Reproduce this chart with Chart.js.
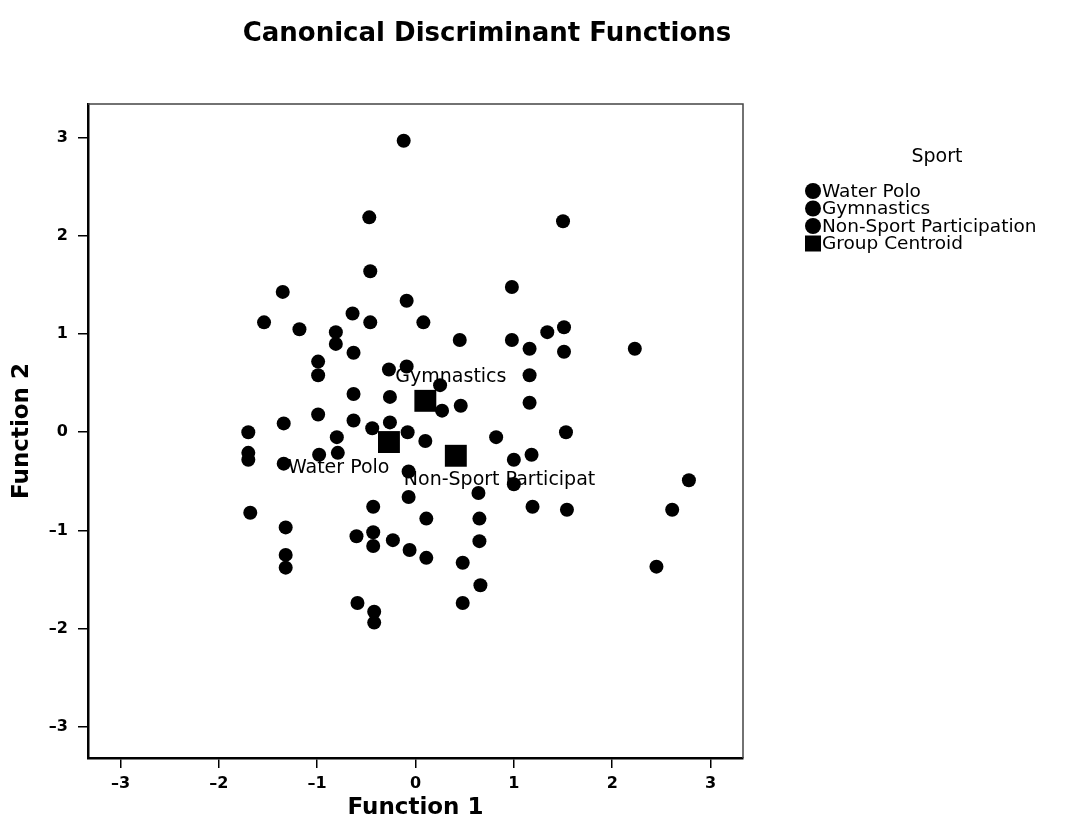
<!DOCTYPE html>
<html>
<head>
<meta charset="utf-8">
<script src="https://cdn.jsdelivr.net/npm/chart.js@4.4.1/dist/chart.umd.min.js"></script>
<style>
  html, body { margin: 0; padding: 0; background: #fff; }
  canvas { display: block; }
</style>
</head>
<body>
<canvas id="discrimChart" width="1069" height="838"></canvas>
<script>
// --- values ---
const groupNames = ['Water Polo', 'Gymnastics', 'Non-Sport Participation'];
const centroidNames = ['Water Polo', 'Gymnastics', 'Non-Sport Participat'];
const axisTicks = [-3, -2, -1, 0, 1, 2, 3];

const waterPoloX = [-1.34, -1.70, -0.44, -0.26, -0.08, -0.80, -1.70, -1.70, -1.34, -0.98, -0.79,
  -0.07, -0.07, -0.43, -1.68, -1.32, -1.32, -1.32, -0.60, -0.43, -0.43, -0.23, -0.06, -0.59, -0.42, -0.42];
const waterPoloY = [0.09, 0.00, 0.04, 0.10, 0.00, -0.05, -0.21, -0.28, -0.32, -0.23, -0.21,
  -0.40, -0.66, -0.76, -0.82, -0.97, -1.25, -1.38, -1.06, -1.02, -1.16, -1.10, -1.20, -1.74, -1.83, -1.94];

const gymnasticsX = [-0.12, -0.47, 1.50, -0.46, -1.35, -0.09, 0.98, -1.54, -1.18, -0.64, -0.46, 0.08,
  -0.81, -0.81, -0.63, 0.45, 0.98, 1.16, 1.34, 1.51, 1.51, 2.23, -0.99, -0.99, -0.27, -0.09, 0.25,
  -0.63, -0.26, 0.27, 0.46, 1.16, 1.16, -0.99, -0.63];
const gymnasticsY = [2.97, 2.19, 2.15, 1.64, 1.43, 1.34, 1.48, 1.12, 1.05, 1.21, 1.12, 1.12,
  1.02, 0.90, 0.81, 0.94, 0.94, 0.85, 1.02, 1.07, 0.82, 0.85, 0.72, 0.58, 0.64, 0.67, 0.48,
  0.39, 0.36, 0.22, 0.27, 0.58, 0.30, 0.18, 0.12];

const nonSportX = [0.10, 0.82, 1.53, 0.11, 0.11, 0.48, 0.48, 1.00, 1.18, 1.00, 0.64, 2.78,
  1.19, 1.54, 2.61, 0.65, 0.65, 2.45, 0.66];
const nonSportY = [-0.09, -0.05, 0.00, -0.88, -1.28, -1.33, -1.74, -0.28, -0.23, -0.53, -0.62, -0.49,
  -0.76, -0.79, -0.79, -0.88, -1.11, -1.37, -1.56];

const centroidX = [-0.27, 0.10, 0.41];
const centroidY = [-0.10, 0.32, -0.24];

const toPoints = (xs, ys) => xs.map((x, i) => ({ x: x, y: ys[i] }));

const FONT = 'DejaVu Sans';
Chart.defaults.font.family = FONT;
Chart.defaults.color = '#000';

// where each centroid's name sits relative to its square (px)
const labelOffsets = [[-101, 26], [-30, -24], [-52, 24]];

const centroidText = {
  id: 'centroidText',
  beforeDatasetsDraw(chart) {
    const { ctx, scales: { x, y } } = chart;
    ctx.save();
    ctx.font = '19px ' + FONT;
    ctx.fillStyle = '#000';
    ctx.textAlign = 'left';
    ctx.textBaseline = 'middle';
    centroidNames.forEach((name, i) => {
      const px = x.getPixelForValue(centroidX[i]) + labelOffsets[i][0];
      const py = y.getPixelForValue(centroidY[i]) + labelOffsets[i][1];
      ctx.fillText(name, px, py);
    });
    ctx.restore();
  }
};

const frameAndLegend = {
  id: 'frameAndLegend',
  afterDraw(chart) {
    const { ctx, chartArea: a } = chart;
    ctx.save();
    // top / right frame
    ctx.strokeStyle = '#444';
    ctx.lineWidth = 1.5;
    ctx.beginPath();
    ctx.moveTo(a.left, a.top);
    ctx.lineTo(a.right, a.top);
    ctx.lineTo(a.right, a.bottom);
    ctx.stroke();

    // chart title
    ctx.fillStyle = '#000';
    ctx.font = 'bold 26px ' + FONT;
    ctx.textAlign = 'center';
    ctx.textBaseline = 'middle';
    ctx.fillText('Canonical Discriminant Functions', 487, 34);

    // legend
    ctx.font = '19px ' + FONT;
    ctx.fillText('Sport', 937, 157);
    ctx.font = '18.5px ' + FONT;
    ctx.textAlign = 'left';
    const entries = groupNames.concat(['Group Centroid']);
    entries.forEach((name, i) => {
      const cy = 191 + i * 17.5;
      ctx.fillStyle = '#000';
      if (i < 3) {
        ctx.beginPath();
        ctx.arc(813, cy, 8, 0, Math.PI * 2);
        ctx.fill();
      } else {
        ctx.fillRect(805, cy - 8, 16, 16);
      }
      ctx.fillText(name, 822, cy + 1);
    });
    ctx.restore();
  }
};

const pointStyle = { backgroundColor: '#000', borderWidth: 0, pointRadius: 7, pointHoverRadius: 7 };
const tickText = (v) => String(v).replace('-', '\u2013');

new Chart(document.getElementById('discrimChart'), {
  type: 'scatter',
  data: {
    datasets: [
      { label: 'Centroids', data: toPoints(centroidX, centroidY), pointStyle: 'rect',
        backgroundColor: '#000', borderWidth: 0, pointRadius: 15.5, pointHoverRadius: 15.5 },
      { label: groupNames[0], data: toPoints(waterPoloX, waterPoloY), ...pointStyle },
      { label: groupNames[1], data: toPoints(gymnasticsX, gymnasticsY), ...pointStyle },
      { label: groupNames[2], data: toPoints(nonSportX, nonSportY), ...pointStyle }
    ]
  },
  options: {
    responsive: false,
    animation: false,
    devicePixelRatio: 1,
    layout: { padding: { top: 104, right: 326, left: 0, bottom: 0 } },
    plugins: { legend: { display: false }, tooltip: { enabled: false } },
    scales: {
      x: {
        type: 'linear',
        min: -3.33, max: 3.33,
        afterBuildTicks: (axis) => { axis.ticks = axisTicks.map(v => ({ value: v })); },
        afterFit: (axis) => { axis.height = 80; },
        ticks: { font: { size: 16, weight: 'bold' }, color: '#000', padding: 6, callback: tickText },
        grid: { drawOnChartArea: false, drawTicks: true, tickLength: 10, color: '#000', lineWidth: 1.5 },
        border: { display: true, color: '#000', width: 2.5 },
        title: { display: true, text: 'Function 1', font: { size: 23, weight: 'bold' },
          color: '#000', padding: { top: 0, bottom: 16 } }
      },
      y: {
        type: 'linear',
        min: -3.32, max: 3.345,
        afterBuildTicks: (axis) => { axis.ticks = axisTicks.map(v => ({ value: v })); },
        afterFit: (axis) => { axis.width = 88; },
        ticks: { font: { size: 16, weight: 'bold' }, color: '#000', padding: 10, callback: tickText },
        grid: { drawOnChartArea: false, drawTicks: true, tickLength: 10, color: '#000', lineWidth: 1.5 },
        border: { display: true, color: '#000', width: 2.5 },
        title: { display: true, text: 'Function 2', font: { size: 23, weight: 'bold' },
          color: '#000', padding: { top: 8, bottom: 0 } }
      }
    }
  },
  plugins: [centroidText, frameAndLegend]
});
</script>
</body>
</html>
